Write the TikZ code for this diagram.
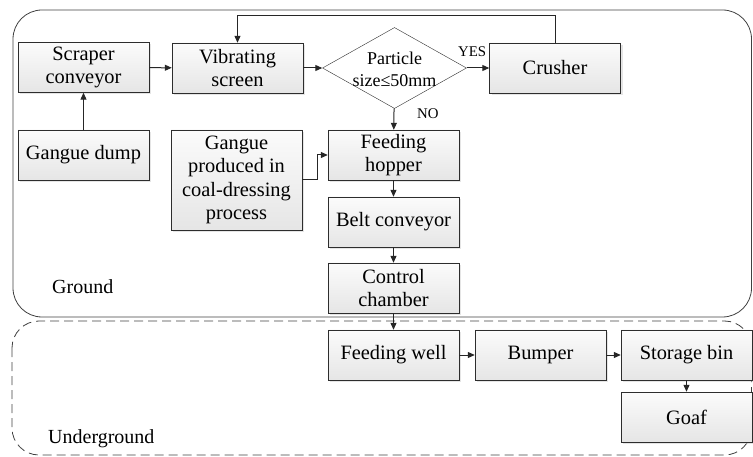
\documentclass[tikz,border=0pt]{standalone}
\usepackage{fontspec}
\setmainfont{Liberation Serif}
\usetikzlibrary{shapes.geometric, arrows.meta, shadows}

\begin{document}
\begin{tikzpicture}[x = 1pt, y = -1pt,
    box/.style = {draw = gray!35!black, top color = gray!3, bottom color = gray!20,
      drop shadow = {shadow xshift = 2pt, shadow yshift = -2pt, fill = gray!40},
      minimum width = 131pt, minimum height = 50pt, inner sep = 0pt, align = center,
      font = \fontsize{20.4}{23.5}\selectfont},
    decision/.style = {diamond, draw = gray!35!black, fill = white,
      minimum width = 144pt, minimum height = 81pt, inner sep = 0pt},
    tag/.style = {anchor = base west, inner sep = 0pt, font = \fontsize{14.8}{17}\selectfont},
    lbl/.style = {anchor = base west, inner sep = 0pt, font = \fontsize{20}{23}\selectfont},
    arr/.style = {draw = gray!30!black, line width = 1pt, -{Triangle[length = 7pt, width = 6pt]}},
    area/.style = {draw = gray!50!black, line width = .8pt, rounded corners = 29pt}]

      \useasboundingbox (0,0) rectangle (753,457);

      \draw[area] (13,10) rectangle (751.5,317);
      \draw[area, dash pattern = on 9pt off 5pt, rounded corners = 27pt] (12,321) rectangle (751.5,455);
      \node[lbl] (grd) at (52,294) {Ground};
      \node[lbl] (ugrd) at (48,443) {Underground};

      \node[box] (scr) at (83.5,67.5) {Scraper\\conveyor};
      \node[box] (vib) at (237.5,68) {Vibrating\\screen};
      \node[decision] (size) at (394.5,68) {};
      \node[align = center, font = \fontsize{18}{22}\selectfont] (sizetxt) at (394.5,69) {Particle\\size≤50mm};
      \node[box] (cru) at (555,68) {Crusher};
      \node[box] (dump) at (83.5,155) {Gangue dump};
      \node[box, minimum height = 100pt] (gprod) at (236.5,180) {Gangue\\produced in\\coal-dressing\\process};
      \node[box] (hop) at (393.5,155) {Feeding\\hopper};
      \node[box] (belt) at (393.5,222) {Belt conveyor};
      \node[box] (ctrl) at (393.5,288) {Control\\chamber};
      \node[box] (well) at (393.5,355) {Feeding well};
      \node[box] (bump) at (540.5,355) {Bumper};
      \node[box] (bin) at (686.5,355) {Storage bin};
      \node[box] (goaf) at (686.5,417) {Goaf};
      \node[tag] (yes) at (458,57) {YES};
      \node[tag] (no) at (417,119) {NO};

      \coordinate (back) at (555,16);
      \draw[arr] (scr) -- (vib);
      \draw[arr] (vib) -- (size);
      \draw[arr] (size) -- (cru);
      \draw[arr] (size) -- (hop);
      \draw[arr] (cru.north) -- (back) -| (vib.north);
      \draw[arr] (dump) -- (scr);
      \draw[arr] (gprod.east) -- ++(15,0) |- (hop.west);
      \draw[arr] (hop) -- (belt);
      \draw[arr] (belt) -- (ctrl);
      \draw[arr] (ctrl) -- (well);
      \draw[arr] (well) -- (bump);
      \draw[arr] (bump) -- (bin);
      \draw[arr] (bin) -- (goaf);
    \end{tikzpicture}
\end{document}
